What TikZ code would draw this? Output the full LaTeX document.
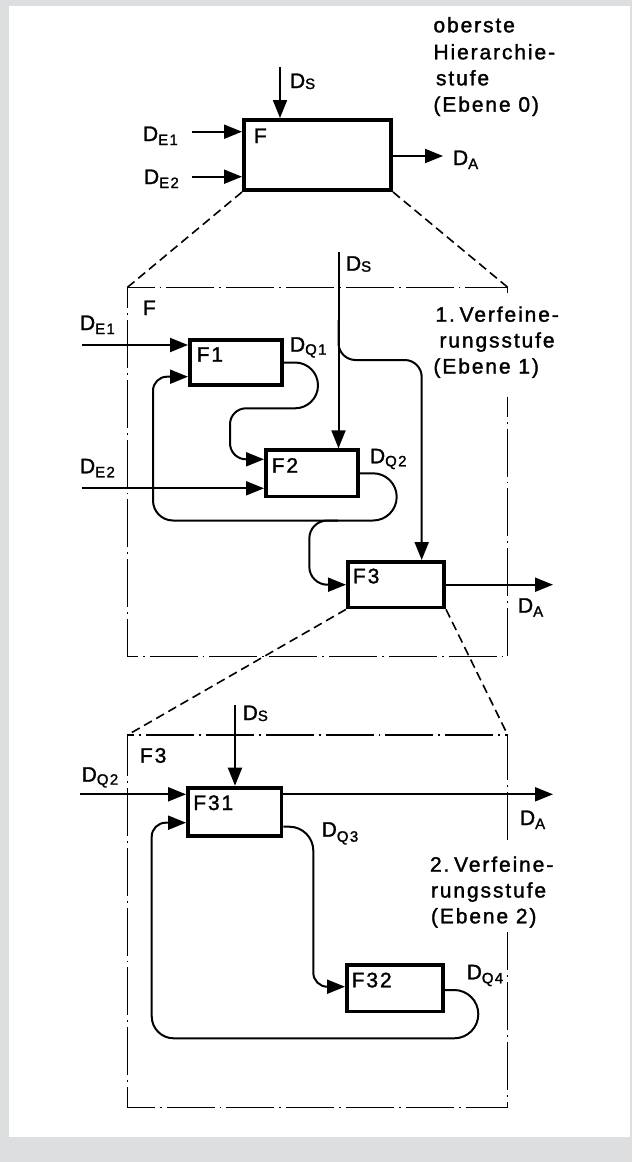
\documentclass[tikz,border=0pt]{standalone}
\usepackage{fontspec}
\usetikzlibrary{arrows.meta}
\newfontfamily\lsf{Liberation Sans}[LetterSpace=9,FakeBold=1.5]
\newcommand\mainsz{\lsf\fontsize{21}{25}\selectfont}
\newcommand\subsz{\lsf\fontsize{15}{15}\selectfont}
\newcommand\Dlab[2][4]{D\raisebox{-#1pt}{\subsz #2}}
\definecolor{bggray}{RGB}{221,222,224}
\tikzset{
  conn/.style={line width=2pt},
  arr/.style={conn,-{Triangle[length=18pt,width=14pt]}},
  fbox/.style={draw,line width=3.8pt,inner sep=0pt},
  lbl/.style={inner sep=0pt,outer sep=0pt,anchor=base west,font=\mainsz},
  frame/.style={line width=1.4pt,dash pattern=on 48pt off 5pt on 1.8pt off 5pt},
  zoomline/.style={line width=1.6pt,dash pattern=on 9pt off 5pt},
}
\begin{document}
\begin{tikzpicture}[x=1pt,y=-1pt]
\useasboundingbox (0,0) rectangle (632,1162);
\fill[bggray] (0,0) rectangle (632,1162);
\fill[white] (9,5.5) rectangle (630,1137);

% ---------- Ebene 0
\node[fbox,line width=4.2pt,minimum width=146.8pt,minimum height=69.8pt] (F) at (317.5,155) {};
\node[lbl] (Flab) at (254,143) {F};
\node[lbl] (ds0l) at (290,88) {\Dlab[1]{S}};
\node[lbl] (de10l) at (143,141) {\Dlab{E1}};
\node[lbl] (de20l) at (144,184) {\Dlab{E2}};
\node[lbl] (da0l) at (453,165) {\Dlab{A}};
\coordinate (ds0) at (280,67);
\coordinate (de10) at (191.5,131.7);
\coordinate (de20) at (191.5,176.7);
\coordinate (da0) at (443,156);
\draw[arr] (ds0) -- (ds0 |- F.north);
\draw[arr] (de10) -- (de10 -| F.west);
\draw[arr] (de20) -- (de20 -| F.west);
\draw[arr] (F.east |- da0) -- (da0);
\node[lbl] (t0a) at (433.5,32.3) {oberste};
\node[lbl] (t0b) at (433.5,59.3) {Hierarchie-};
\node[lbl] (t0c) at (436,85.3) {stufe};
\node[lbl] (t0d) at (433.5,111.7) {(Ebene 0)};

% ---------- Ebene 1 frame
\coordinate (f1tl) at (127.5,287.3);
\coordinate (f1tr) at (507.7,287.3);
\coordinate (f1br) at (507.7,656.7);
\coordinate (f1bl) at (127.5,656.7);
\draw[frame] (507.7,293) -- (f1tr) -- (f1tl) -- (f1bl) -- (f1br) -- (507.7,397);
\draw[zoomline] (F.south west) -- (f1tl);
\draw[zoomline] (F.south east) -- (f1tr);

\node[fbox,minimum width=92.2pt,minimum height=45.2pt] (F1) at (236,362.5) {};
\node[fbox,minimum width=92.2pt,minimum height=46.2pt] (F2) at (312,473.3) {};
\node[fbox,minimum width=96.2pt,minimum height=45.5pt] (F3) at (396,584.7) {};

\node[lbl] (Fframe) at (143,315) {F};
\node[lbl] (F1l) at (196.7,361.7) {F1};
\node[lbl] (F2l) at (271.7,472.7) {F2};
\node[lbl] (F3l) at (353,583.3) {F3};
\node[lbl] (ds1l) at (346,270.7) {\Dlab[1]{S}};
\node[lbl] (de11l) at (80,330) {\Dlab{E1}};
\node[lbl] (de21l) at (80,473.3) {\Dlab{E2}};
\node[lbl] (dq1l) at (290,351.7) {\Dlab[3]{Q1}};
\node[lbl] (dq2l) at (370,463.3) {\Dlab[3]{Q2}};
\node[lbl] (da1l) at (518,612.7) {\Dlab{A}};
\node[lbl] (t1a) at (435.5,321.7) {1.\kern-3pt\ Verfeine-};
\node[lbl] (t1b) at (439.5,347.5) {rungsstufe};
\node[lbl] (t1c) at (433.5,373.5) {(Ebene 1)};

\coordinate (ds1) at (338.5,251.7);
\draw[arr] (ds1) -- (ds1 |- F2.north);
\coordinate (ds1b) at (338.5,320);
\coordinate (ds1c) at (421.7,360);
\draw[arr,rounded corners=17pt] (ds1b) |- (ds1c) -- (ds1c |- F3.north);
\coordinate (de11) at (81.7,345);
\draw[arr] (de11) -- (de11 -| F1.west);
\coordinate (de21) at (81.7,488.3);
\draw[arr] (de21) -- (de21 -| F2.west);

\coordinate (q1a) at (318,362.5);
\coordinate (q1b) at (230,408.3);
\coordinate (q1c) at (230,459.3);
\draw[arr] (F1.east) [rounded corners=22.9pt] -- (q1a) -- (q1a |- q1b)
  [rounded corners=16pt] -- (q1b) -- (q1c) -- (q1c -| F2.west);

\coordinate (q2a) at (396.7,473.3);
\coordinate (q2b) at (153,520.5);
\coordinate (q2c) at (153,376.7);
\draw[arr] (F2.east) [rounded corners=23.6pt] -- (q2a) -- (q2a |- q2b)
  [rounded corners=20pt] -- (q2b) [rounded corners=14pt] -- (q2c) -- (q2c -| F1.west);

\coordinate (br0) at (338,520.5);
\coordinate (br1) at (309.3,520.5);
\coordinate (br2) at (309.3,584.7);
\draw[arr,rounded corners=18pt] (br0) -- (br1) -- (br2) -- (F3.west);

\coordinate (da1) at (553,584.7);
\draw[arr] (F3.east) -- (da1);

% ---------- Ebene 2 frame
\coordinate (f2tl) at (127.5,735);
\coordinate (f2tr) at (507.7,735);
\coordinate (f2br) at (507.7,1107.7);
\coordinate (f2bl) at (127.5,1107.7);
\draw[frame] (507.7,840) -- (f2tr) -- (f2tl) -- (f2bl) -- (f2br) -- (507.7,932);
\draw[zoomline] (F3.south west) -- (f2tl);
\draw[zoomline] (F3.south east) -- (f2tr);

\node[fbox,minimum width=93.5pt,minimum height=48.2pt] (F31) at (234.7,811.7) {};
\node[fbox,minimum width=96.2pt,minimum height=46.8pt] (F32) at (395,988) {};

\node[lbl] (Ff3) at (140,762.7) {F3};
\node[lbl] (ds2l) at (242.7,720) {\Dlab[1]{S}};
\node[lbl] (dq2l2) at (81.7,781.7) {\Dlab[3]{Q2}};
\node[lbl] (F31l) at (193.3,810) {F31};
\node[lbl] (da2l) at (520,825) {\Dlab{A}};
\node[lbl] (dq3l) at (321.7,836.7) {\Dlab[5]{Q3}};
\node[lbl] (F32l) at (351.7,987.3) {F32};
\node[lbl] (dq4l) at (466.7,979.3) {\Dlab{Q4}};
\node[lbl] (t2a) at (430,871.7) {2.\kern-3pt\ Verfeine-};
\node[lbl] (t2b) at (431,897.5) {rungsstufe};
\node[lbl] (t2c) at (431,923.3) {(Ebene 2)};

\coordinate (ds2) at (235,705);
\draw[arr] (ds2) -- (ds2 |- F31.north);
\coordinate (dq2s) at (80,794.3);
\draw[arr] (dq2s) -- (dq2s -| F31.west);
\coordinate (da2) at (553,794.3);
\draw[arr] (F31.east |- da2) -- (da2);

\coordinate (q3a) at (313.3,826.7);
\coordinate (q3b) at (313.3,986.7);
\draw[arr] (F31.east |- q3a) [rounded corners=24pt] -- (q3a)
  [rounded corners=14pt] -- (q3b) -- (q3b -| F32.west);

\coordinate (q4a) at (478.3,990);
\coordinate (q4b) at (151.7,1038.3);
\coordinate (q4c) at (151.7,822.7);
\draw[arr] (F32.east |- q4a) [rounded corners=24.1pt] -- (q4a) -- (q4a |- q4b)
  [rounded corners=22pt] -- (q4b) [rounded corners=14pt] -- (q4c) -- (q4c -| F31.west);
\end{tikzpicture}
\end{document}
